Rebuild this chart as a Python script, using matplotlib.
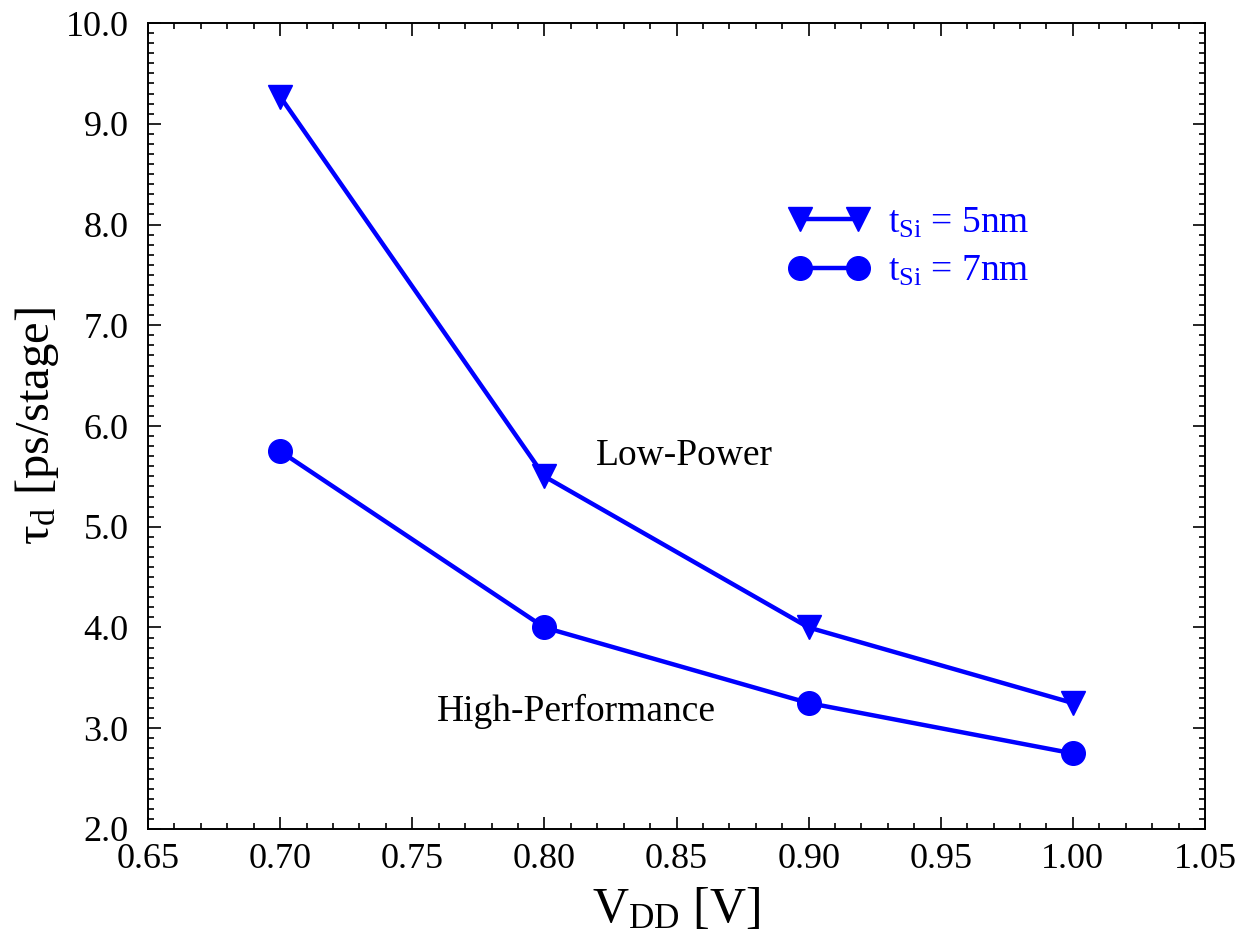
import numpy as np
import matplotlib
matplotlib.use("Agg")
import matplotlib.pyplot as plt
from matplotlib.ticker import MultipleLocator, FormatStrFormatter

plt.rcParams['font.family'] = ['Liberation Serif', 'DejaVu Serif']
plt.rcParams['mathtext.fontset'] = 'custom'
plt.rcParams['mathtext.rm'] = 'Liberation Serif'
plt.rcParams['mathtext.it'] = 'Liberation Serif:italic'

# supply voltage and stage delay for the two silicon thicknesses
vdd = [0.70, 0.80, 0.90, 1.00]
delay_5nm = [9.27, 5.50, 4.00, 3.25]
delay_7nm = [5.75, 4.00, 3.25, 2.75]

fig = plt.figure(figsize=(12.42, 9.33), dpi=100)
ax = fig.add_axes([0.1192, 0.1115, 0.851, 0.8638])

ax.plot(vdd, delay_5nm, color='#0000ff', lw=3.2, marker='v', ms=17,
        label=r't$_{\mathrm{Si}}$ = 5nm')
ax.plot(vdd, delay_7nm, color='#0000ff', lw=3.2, marker='o', ms=17,
        label=r't$_{\mathrm{Si}}$ = 7nm')

ax.text(0.853, 5.7, 'Low-Power', fontsize=27, ha='center', va='center')
ax.text(0.812, 3.17, 'High-Performance', fontsize=27, ha='center', va='center')

ax.set_xlim(0.65, 1.05)
ax.set_ylim(2.0, 10.0)
ax.xaxis.set_major_locator(MultipleLocator(0.05))
ax.xaxis.set_minor_locator(MultipleLocator(0.01))
ax.yaxis.set_major_locator(MultipleLocator(1.0))
ax.yaxis.set_minor_locator(MultipleLocator(0.1))
ax.xaxis.set_major_formatter(FormatStrFormatter('%.2f'))
ax.yaxis.set_major_formatter(FormatStrFormatter('%.1f'))
ax.tick_params(which='both', direction='in', top=True, right=True,
               width=1.2, labelsize=26)
ax.tick_params(axis='y', which='major', length=9, pad=14)
ax.tick_params(axis='x', which='major', length=9, pad=10)
ax.tick_params(which='minor', length=4.5)
for sp in ax.spines.values():
    sp.set_linewidth(1.4)

ax.set_xlabel(r'V$_{\mathrm{DD}}$ [V]', fontsize=36, labelpad=8)
ax.set_ylabel(r'τ$_{\mathrm{d}}$ [ps/stage]', fontsize=35, labelpad=3)

ax.legend(loc='upper left', bbox_to_anchor=(0.5742, 0.815), frameon=False,
          numpoints=2, fontsize=27, labelcolor='#0000ff', handlelength=2.15,
          handletextpad=0.5, labelspacing=0.37)

fig.savefig('out.png', dpi=100)
